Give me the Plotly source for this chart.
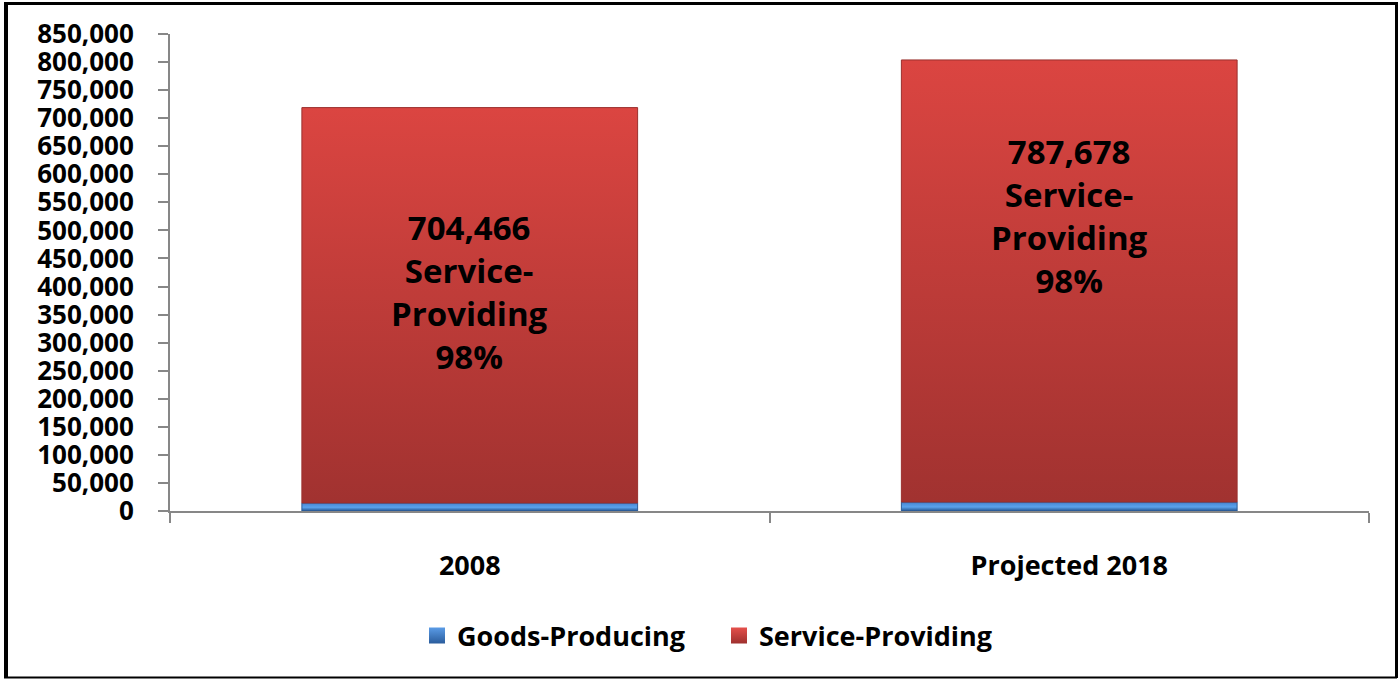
import plotly.graph_objects as go

# Employment by sector, 2008 vs projected 2018
categories = ["2008", "Projected 2018"]
goods_producing = [14377, 16075]
service_providing = [704466, 787678]
service_share = ["98%", "98%"]

FONT = "Open Sans"
W, H = 1399, 679
L, R, T, B = 170, 30, 34, 168
PW, PH = W - L - R, H - T - B

bar_half = 0.28
red_scale = [[0, "#A13230"], [1, "#DB4541"]]
blue_scale = [[0, "#25548F"], [0.45, "#5AA2EC"], [0.8, "#4E8FDB"], [1, "#3A6FB5"]]

fig = go.Figure()


def add_segment(i, base, height, scale, edge, name):
    x0, x1 = i - bar_half, i + bar_half
    top = base + height
    fig.add_trace(go.Scatter(
        x=[x0, x1, x1, x0, x0],
        y=[base, base, top, top, base],
        mode="lines",
        fill="toself",
        fillgradient=dict(type="vertical", colorscale=scale),
        line=dict(color=edge, width=1),
        name=name,
        legendgroup=name,
        showlegend=False,
        hoverinfo="text",
        text=f"{name}: {height:,}",
    ))


for i, cat in enumerate(categories):
    add_segment(i, 0, goods_producing[i], blue_scale, "#2B5A96", "Goods-Producing")
    add_segment(i, goods_producing[i], service_providing[i], red_scale, "#9A302E",
                "Service-Providing")

# legend entries
for name, top_c, bot_c in [("Goods-Producing", "#5A9BE6", "#2A5C9C"),
                           ("Service-Providing", "#E5504B", "#9E302E")]:
    fig.add_trace(go.Scatter(
        x=[None], y=[None], mode="markers", name=name, legendgroup=name,
        marker=dict(symbol="square", size=16, color=top_c,
                    gradient=dict(type="vertical", color=bot_c),
                    line=dict(width=0)),
    ))

# in-bar labels
label_y = [390000, 526000]
for i in range(len(categories)):
    fig.add_annotation(
        x=i, y=label_y[i],
        text=f"{service_providing[i]:,}<br>Service-<br>Providing<br>{service_share[i]}",
        showarrow=False, yanchor="middle", xanchor="center",
        font=dict(family=FONT, size=33, color="black", weight="bold"),
    )

# outer frame
def px(x):
    return (x - L) / PW


def py(y):
    return (H - B - y) / PH


frame = [
    (px(6), py(2), px(6), py(677), 4),
    (px(4), py(3.5), px(1397), py(3.5), 3),
    (px(1396.5), py(2), px(1396.5), py(678), 3),
    (px(4), py(677.5), px(1397), py(677.5), 2),
]
for x0, y0, x1, y1, w in frame:
    fig.add_shape(type="line", xref="paper", yref="paper", x0=x0, y0=y0, x1=x1, y1=y1,
                  line=dict(color="black", width=w))

axis_grey = "#878787"
fig.update_layout(
    width=W, height=H,
    margin=dict(l=L, r=R, t=T, b=B, autoexpand=False),
    paper_bgcolor="white", plot_bgcolor="white",
    font=dict(family=FONT, color="black"),
    showlegend=True,
    legend=dict(
        orientation="h", x=px(417), xanchor="left", y=py(636), yanchor="middle",
        entrywidth=257, entrywidthmode="pixels",
        font=dict(family=FONT, size=27, color="black", weight="bold"),
        itemclick=False, itemdoubleclick=False,
    ),
    xaxis=dict(
        range=[-0.5, 1.5], tickmode="array", tickvals=[0, 1], ticktext=categories,
        ticks="", showgrid=False, zeroline=False,
        showline=True, linecolor=axis_grey, linewidth=2,
        ticklabelstandoff=30,
        tickfont=dict(family=FONT, size=27, color="black", weight="bold"),
        minor=dict(tickmode="array", tickvals=[-0.5, 0.5, 1.5], ticks="outside",
                   ticklen=10, tickwidth=2, tickcolor=axis_grey, showgrid=False),
        fixedrange=True,
    ),
    yaxis=dict(
        range=[0, 850000], tickmode="linear", tick0=0, dtick=50000, tickformat=",",
        ticks="outside", ticklen=10, tickwidth=2, tickcolor=axis_grey,
        showline=True, linecolor=axis_grey, linewidth=2,
        showgrid=False, zeroline=False, ticklabelstandoff=19,
        tickfont=dict(family=FONT, size=26, color="black", weight="bold"),
        fixedrange=True,
    ),
)

fig.write_html("out.html")
